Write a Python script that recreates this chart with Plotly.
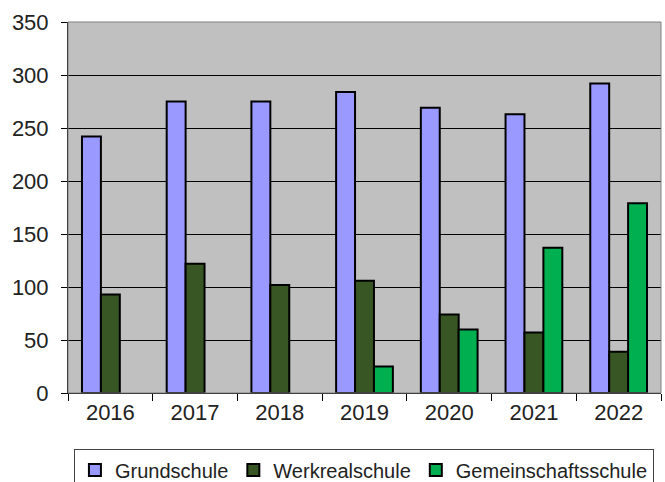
import plotly.graph_objects as go

years = ["2016", "2017", "2018", "2019", "2020", "2021", "2022"]
grundschule = [242, 275, 275, 284, 269, 263, 292]
werkrealschule = [93, 122, 102, 106, 74, 57, 39]
gemeinschaftsschule = [None, None, None, 25, 60, 137, 179]
y_ticks = [0, 50, 100, 150, 200, 250, 300, 350]

series = [
    ("Grundschule", grundschule, "#9999FF"),
    ("Werkrealschule", werkrealschule, "#375623"),
    ("Gemeinschaftsschule", gemeinschaftsschule, "#00B050"),
]

fig = go.Figure()
for name, vals, col in series:
    fig.add_trace(go.Bar(
        x=years, y=vals, name=name,
        marker=dict(color=col, line=dict(color="black", width=2)),
    ))

fig.update_layout(
    width=665, height=482,
    margin=dict(l=68, r=4, t=22, b=89, autoexpand=False),
    paper_bgcolor="white",
    plot_bgcolor="#C0C0C0",
    barmode="group",
    bargap=0.33,
    bargroupgap=0,
    font=dict(family="Liberation Sans, Arial, sans-serif", size=22, color="#222222"),
    showlegend=True,
    legend=dict(
        orientation="h",
        x=0.01, xanchor="left",
        y=-0.152, yanchor="top",
        bordercolor="#444444", borderwidth=1,
        font=dict(size=20, color="#222222"),
        bgcolor="white",
        itemwidth=30,
        traceorder="normal",
    ),
)
fig.update_xaxes(
    type="category",
    tickson="boundaries",
    ticks="outside", ticklen=7, tickcolor="black",
    showline=True, linecolor="black", linewidth=1,
    showgrid=False, automargin=False,
)
fig.update_yaxes(
    range=[0, 350],
    tickvals=y_ticks,
    ticks="outside", ticklen=6, tickcolor="black",
    ticklabelstandoff=8,
    showline=True, linecolor="black", linewidth=1,
    showgrid=True, gridcolor="black", gridwidth=1,
    zeroline=False, automargin=False,
)
fig.add_shape(type="rect", xref="paper", yref="paper", x0=0, x1=1, y0=0, y1=1,
              line=dict(color="#808080", width=1), layer="above")
fig.write_html(
    "out.html",
    config={"displayModeBar": False},
    post_script="document.body.style.margin='0';document.body.style.overflow='hidden';",
)
